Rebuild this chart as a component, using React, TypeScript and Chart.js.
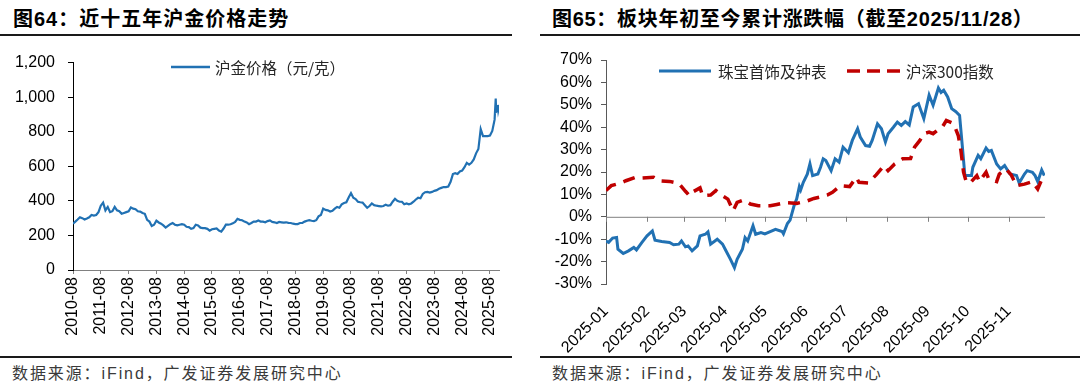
import React, { useEffect, useRef } from 'react';
import { Chart, registerables } from 'chart.js';

Chart.register(...registerables);

const LATIN = "'Liberation Sans', Arial, 'Noto Sans CJK SC', sans-serif";
const CJK = "'Noto Sans CJK SC', 'Liberation Sans', sans-serif";

// ---------- Chart 64: SHFE gold price ----------
const goldTitle = '图64：近十五年沪金价格走势';
const goldSeriesName = '沪金价格（元/克）';
const goldTickLabels = [
  '2010-08', '2011-08', '2012-08', '2013-08', '2014-08', '2015-08', '2016-08', '2017-08',
  '2018-08', '2019-08', '2020-08', '2021-08', '2022-08', '2023-08', '2024-08', '2025-08',
];
const goldStartMonth = '2010-08';
// monthly values, 2010-08 .. 2025-09 (元/克)
const goldMonthly = [
  268, 280, 292, 305, 300,
  292, 298, 305, 318, 315, 318, 335, 372, 390, 345, 365, 335,
  340, 365, 345, 340, 325, 330, 335, 340, 362, 355, 352, 340,
  338, 330, 325, 290, 280, 255, 262, 285, 275, 268, 258, 245,
  255, 265, 272, 262, 258, 262, 265, 262, 250, 248, 238, 242,
  262, 258, 245, 242, 242, 238, 228, 236, 238, 240, 228, 222,
  240, 262, 262, 265, 270, 278, 296, 290, 288, 280, 275, 265,
  272, 280, 280, 286, 280, 280, 276, 283, 287, 278, 276, 272,
  278, 276, 274, 276, 273, 272, 268, 266, 266, 272, 272, 280,
  285, 288, 285, 283, 288, 310, 318, 355, 348, 345, 338, 342,
  355, 365, 360, 380, 388, 392, 420, 445, 418, 410, 395, 392,
  390, 375, 360, 370, 385, 375, 372, 370, 368, 370, 378, 372,
  375, 395, 412, 400, 395, 395, 380, 385, 380, 385, 395, 408,
  418, 415, 440, 450, 452, 448, 452, 458, 462, 470, 475, 480,
  480, 483, 510, 555, 560, 555, 570, 575, 595, 620, 610, 620,
  640, 675, 700, 815, 775, 775, 775, 778, 805,
];
const goldTailDates = ['2025-10-01', '2025-10-16', '2025-10-22', '2025-11-03', '2025-11-13', '2025-11-19', '2025-11-28'];
const goldTailValues = [870, 992, 915, 920, 955, 925, 945];
const goldEndDate = '2025-11-28';
const goldYTicks = [0, 200, 400, 600, 800, 1000, 1200];

// ---------- Chart 65: YTD change ----------
const ytdTitle = '图65：板块年初至今累计涨跌幅（截至2025/11/28）';
const jewelryName = '珠宝首饰及钟表';
const csiName = '沪深300指数';
const ytdTickLabels = ['2025-01', '2025-02', '2025-03', '2025-04', '2025-05', '2025-06', '2025-07', '2025-08', '2025-09', '2025-10', '2025-11'];
const ytdEndDate = '2025-11-28';
// days since 2025-01-01
const jewelryDays = [
  0, 2, 5, 8, 9, 13, 17, 21, 23, 27, 31, 35, 37, 42, 48, 51, 55, 57, 60, 62, 65, 69, 71, 75, 77, 79, 84, 88, 90, 94,
  97, 99, 103, 105, 107, 111, 113, 117, 120, 128, 133, 134, 137, 139, 142, 144, 146, 147, 149, 152, 154, 156, 160, 162,
  164, 166, 170, 173, 176, 179, 183, 186, 190, 192, 196, 199, 201, 205, 208, 211, 213, 217, 220, 223, 226, 229, 232,
  236, 240, 244, 247, 251, 253, 255, 258, 261, 264, 267, 269, 271, 276, 277, 281, 283, 287, 289, 291, 295, 298, 301,
  305, 310, 312, 316, 318, 322, 324, 326, 329, 331,
];
const jewelryPct = [
  -10.8, -11.4, -9.5, -9.2, -14.5, -16.4, -15.2, -13.7, -14.8, -11.5, -8.5, -6.3, -10.4, -11.0, -11.5, -12.5, -12.2,
  -10.8, -13.4, -13.0, -15.2, -13.0, -8.5, -7.8, -6.7, -12.2, -10.0, -12.2, -14.5, -19.0,
  -22.7, -19.0, -14.5, -9.3, -10.8, -4.0, -7.8, -7.0, -7.6, -5.6, -6.6, -7.6, -3.0, -1.5, 4.9, 8.0, 13.5, 12.0, 15.4,
  19.0, 23.6, 18.4, 19.1, 22.1,
  25.9, 25.1, 20.6, 25.9, 24.4, 31.1, 28.6, 34.1, 39.3, 35.6, 31.8, 31.5, 34.1, 41.5, 39.3, 33.4, 37.1, 40.0, 42.3,
  40.8, 42.5, 41.0, 49.0,
  50.5, 43.8, 54.3, 49.8, 57.5, 55.5, 56.5, 53.5, 48.3, 47.0, 45.3, 32.0, 18.4, 18.4, 22.1, 27.4, 25.9, 30.7, 29.2,
  29.6, 23.6, 21.4, 22.9,
  19.1, 18.4, 15.1, 19.1, 20.6, 19.9, 18.4, 15.7, 20.9, 18.4,
];
const csiDays = [
  0, 4, 11, 15, 22, 27, 36, 40, 48, 55, 60, 63, 65, 71, 73, 79, 83, 88, 92, 96, 99, 104, 109, 115, 124, 129, 135, 140,
  144, 152, 157, 162, 167, 171, 177, 184, 189, 191, 198, 204, 210, 213, 218, 224, 230, 233, 237, 240, 244, 247, 251,
  254, 257, 261, 263, 266, 268, 270, 272, 275, 280, 282, 287, 289, 295, 297, 302, 306, 310, 316, 322, 326, 329,
];
const csiPct = [
  11.7, 13.9, 15.1, 16.1, 17.6, 17.3, 17.6, 16.1, 15.8, 14.9, 11.4, 9.4, 10.9, 12.9, 9.4, 9.7, 11.7, 9.4, 7.9, 2.7,
  6.4, 7.5, 5.7, 4.9, 4.9, 5.5, 6.3, 6.2,
  6.0, 7.1, 8.2, 8.9, 9.7, 10.9, 13.9, 13.5, 17.6, 15.4, 15.1, 18.7, 22.9, 20.6, 23.6, 25.9, 26.0, 31.1, 34.1, 37.1,
  37.8, 37.1, 39.0,
  40.1, 43.0, 42.0, 40.8, 36.3, 29.6, 19.9, 15.7, 15.1, 18.4, 15.7, 19.9, 16.9, 15.7, 19.1, 21.4, 18.7, 13.9, 14.6,
  15.7, 12.4, 16.6,
];
const ytdYTicks = [-30, -20, -10, 0, 10, 20, 30, 40, 50, 60, 70];

const sourceText = '数据来源：iFind，广发证券发展研究中心';

const BLUE = '#2171b3';
const RED = '#c00000';

function monthsSince(start: string, date: string): number {
  const [sy, sm] = start.split('-').map(Number);
  const p = date.split('-').map(Number);
  const y = p[0], m = p[1], d = p[2] || 1;
  const dim = new Date(Date.UTC(y, m, 0)).getUTCDate();
  return (y - sy) * 12 + (m - sm) + (d - 1) / dim;
}
function dayOfYear(date: string): number {
  const p = date.split('-').map(Number);
  return (Date.UTC(p[0], p[1] - 1, p[2] || 1) - Date.UTC(p[0], 0, 1)) / 86400000;
}

const legendPlugin = {
  id: 'customLegend',
  afterDraw(chart: any, _args: any, opts: any) {
    const ctx = chart.ctx;
    (opts.items || []).forEach((it: any) => {
      ctx.save();
      ctx.strokeStyle = it.color;
      ctx.lineWidth = it.width;
      ctx.setLineDash(it.dash || []);
      ctx.beginPath();
      ctx.moveTo(it.x, it.y);
      ctx.lineTo(it.x + it.len, it.y);
      ctx.stroke();
      ctx.setLineDash([]);
      ctx.fillStyle = '#262626';
      ctx.font = `${it.size}px ${CJK}`;
      (ctx as any).letterSpacing = it.spacing || '0px';
      ctx.textBaseline = 'middle';
      ctx.textAlign = 'left';
      ctx.fillText(it.text, it.x + it.len + it.gap, it.y + 1);
      ctx.restore();
    });
  },
};

const zeroLinePlugin = {
  id: 'zeroLine',
  beforeDatasetsDraw(chart: any, _args: any, opts: any) {
    if (!opts.enabled) return;
    const ctx = chart.ctx;
    const ys = chart.scales.y;
    const xs = chart.scales.x;
    const y0 = ys.getPixelForValue(0);
    ctx.save();
    ctx.strokeStyle = '#808080';
    ctx.lineWidth = 1;
    ctx.beginPath();
    ctx.moveTo(chart.chartArea.left, y0 + 0.5);
    ctx.lineTo(chart.chartArea.right, y0 + 0.5);
    xs.ticks.forEach((t: any) => {
      const x = Math.round(xs.getPixelForValue(t.value)) + 0.5;
      ctx.moveTo(x, y0);
      ctx.lineTo(x, y0 + 5);
    });
    ctx.stroke();
    ctx.restore();
  },
};

function GoldChart() {
  const ref = useRef<HTMLCanvasElement>(null);
  useEffect(() => {
    const pts = goldMonthly.map((v, i) => ({ x: i, y: v }));
    goldTailDates.forEach((d, i) => pts.push({ x: monthsSince(goldStartMonth, d), y: goldTailValues[i] }));
    const tickPos = goldTickLabels.map((l) => monthsSince(goldStartMonth, l));
    const chart = new Chart(ref.current!, {
      type: 'line',
      data: {
        datasets: [
          {
            label: goldSeriesName,
            data: pts,
            borderColor: BLUE,
            borderWidth: 2.2,
            pointRadius: 0,
            tension: 0,
          },
        ],
      },
      plugins: [legendPlugin],
      options: {
        animation: false,
        responsive: false,
        maintainAspectRatio: false,
        layout: { padding: { top: 18, right: 21, left: 0, bottom: 0 } },
        plugins: {
          legend: { display: false },
          tooltip: { enabled: false },
          customLegend: {
            items: [{ x: 171, y: 27, len: 39, gap: 5, text: goldSeriesName, color: BLUE, width: 2.5, size: 15.5 }],
          },
        } as any,
        scales: {
          x: {
            type: 'linear',
            min: 0,
            max: monthsSince(goldStartMonth, goldEndDate),
            afterBuildTicks: (s: any) => {
              s.ticks = tickPos.map((v) => ({ value: v }));
            },
            afterFit: (s: any) => {
              s.height = 85;
            },
            grid: { display: true, drawOnChartArea: false, drawTicks: true, tickLength: 4, color: '#808080' },
            border: { display: true, color: '#808080' },
            ticks: {
              autoSkip: false,
              minRotation: 90,
              maxRotation: 90,
              padding: 3,
              color: '#000',
              font: { family: LATIN, size: 16 },
              callback: (v: any) => {
                const i = tickPos.findIndex((p) => Math.abs(p - v) < 1e-6);
                return i >= 0 ? goldTickLabels[i] : '';
              },
            },
          },
          y: {
            type: 'linear',
            min: 0,
            max: 1200,
            afterBuildTicks: (s: any) => {
              s.ticks = goldYTicks.map((v) => ({ value: v }));
            },
            afterFit: (s: any) => {
              s.width = 73;
            },
            grid: { display: true, drawOnChartArea: false, drawTicks: true, tickLength: 5, color: '#000' },
            border: { display: true, color: '#000' },
            ticks: {
              padding: 13,
              color: '#000',
              font: { family: LATIN, size: 16 },
              callback: (v: any) => Number(v).toLocaleString('en-US'),
            },
          },
        },
      },
    } as any);
    return () => chart.destroy();
  }, []);
  return <canvas ref={ref} width={520} height={315} style={{ position: 'absolute', left: 0, top: 40 }} />;
}

function YtdChart() {
  const ref = useRef<HTMLCanvasElement>(null);
  useEffect(() => {
    const tickPos = ytdTickLabels.map((l) => dayOfYear(l + '-01'));
    const chart = new Chart(ref.current!, {
      type: 'line',
      data: {
        datasets: [
          {
            label: csiName,
            data: csiDays.map((d, i) => ({ x: d, y: csiPct[i] })),
            borderColor: RED,
            borderWidth: 3.5,
            borderDash: [12, 8],
            pointRadius: 0,
            tension: 0,
          },
          {
            label: jewelryName,
            data: jewelryDays.map((d, i) => ({ x: d, y: jewelryPct[i] })),
            borderColor: BLUE,
            borderWidth: 3,
            pointRadius: 0,
            tension: 0,
          },
        ],
      },
      plugins: [legendPlugin, zeroLinePlugin],
      options: {
        animation: false,
        responsive: false,
        maintainAspectRatio: false,
        layout: { padding: { top: 20, right: 35, left: 0, bottom: 0 } },
        plugins: {
          legend: { display: false },
          tooltip: { enabled: false },
          zeroLine: { enabled: true },
          customLegend: {
            items: [
              { x: 119, y: 31, len: 52, gap: 7, text: jewelryName, color: BLUE, width: 3, size: 15.5 },
              { x: 307, y: 31, len: 53, gap: 6, text: csiName, color: RED, width: 3.5, dash: [13, 7], size: 15.5 },
            ],
          },
        } as any,
        scales: {
          x: {
            type: 'linear',
            min: 0,
            max: dayOfYear(ytdEndDate) + 0.5,
            afterBuildTicks: (s: any) => {
              s.ticks = tickPos.map((v) => ({ value: v }));
            },
            afterFit: (s: any) => {
              s.height = 71;
            },
            grid: { display: false },
            border: { display: false },
            ticks: {
              autoSkip: false,
              minRotation: 45,
              maxRotation: 45,
              padding: 10,
              color: '#000',
              font: { family: LATIN, size: 16 },
              callback: (v: any) => {
                const i = tickPos.findIndex((p) => Math.abs(p - v) < 1e-6);
                return i >= 0 ? ytdTickLabels[i] : '';
              },
            },
          },
          y: {
            type: 'linear',
            min: -30,
            max: 70,
            afterBuildTicks: (s: any) => {
              s.ticks = ytdYTicks.map((v) => ({ value: v }));
            },
            afterFit: (s: any) => {
              s.width = 66;
            },
            grid: { display: true, drawOnChartArea: false, drawTicks: true, tickLength: 5, color: '#595959' },
            border: { display: true, color: '#595959' },
            ticks: {
              padding: 9,
              color: '#000',
              font: { family: LATIN, size: 16 },
              callback: (v: any) => `${v}%`,
            },
          },
        },
      },
    } as any);
    return () => chart.destroy();
  }, []);
  return <canvas ref={ref} width={540} height={315} style={{ position: 'absolute', left: 540, top: 40 }} />;
}

const titleStyle: React.CSSProperties = {
  position: 'absolute',
  top: 5,
  fontFamily: LATIN,
  fontWeight: 'bold',
  fontSize: 20,
  lineHeight: '28px',
  color: '#000',
  whiteSpace: 'nowrap',
};
const sourceStyle: React.CSSProperties = {
  position: 'absolute',
  top: 363,
  fontFamily: "'Liberation Sans', 'Noto Sans CJK SC', sans-serif",
  fontSize: 16,
  lineHeight: '22px',
  letterSpacing: '1.9px',
  color: '#3a3a3a',
  whiteSpace: 'nowrap',
};
const rule = (left: number, top: number, width: number): React.CSSProperties => ({
  position: 'absolute',
  left,
  top,
  width,
  height: 1.5,
  background: '#1a1a1a',
});

export default function App() {
  return (
    <div style={{ position: 'absolute', left: 0, top: 0, width: 1080, height: 384, background: '#fff', overflow: 'hidden' }}>
      <div style={{ ...titleStyle, left: 13, letterSpacing: '1px' }}>{goldTitle}</div>
      <div style={{ ...titleStyle, left: 552, letterSpacing: '0.7px' }}>{ytdTitle}</div>
      <div style={rule(0, 34, 512)} />
      <div style={rule(540, 34, 540)} />
      <GoldChart />
      <YtdChart />
      <div style={rule(0, 356, 512)} />
      <div style={rule(540, 356, 540)} />
      <div style={{ ...sourceStyle, left: 12 }}>{sourceText}</div>
      <div style={{ ...sourceStyle, left: 552 }}>{sourceText}</div>
    </div>
  );
}
